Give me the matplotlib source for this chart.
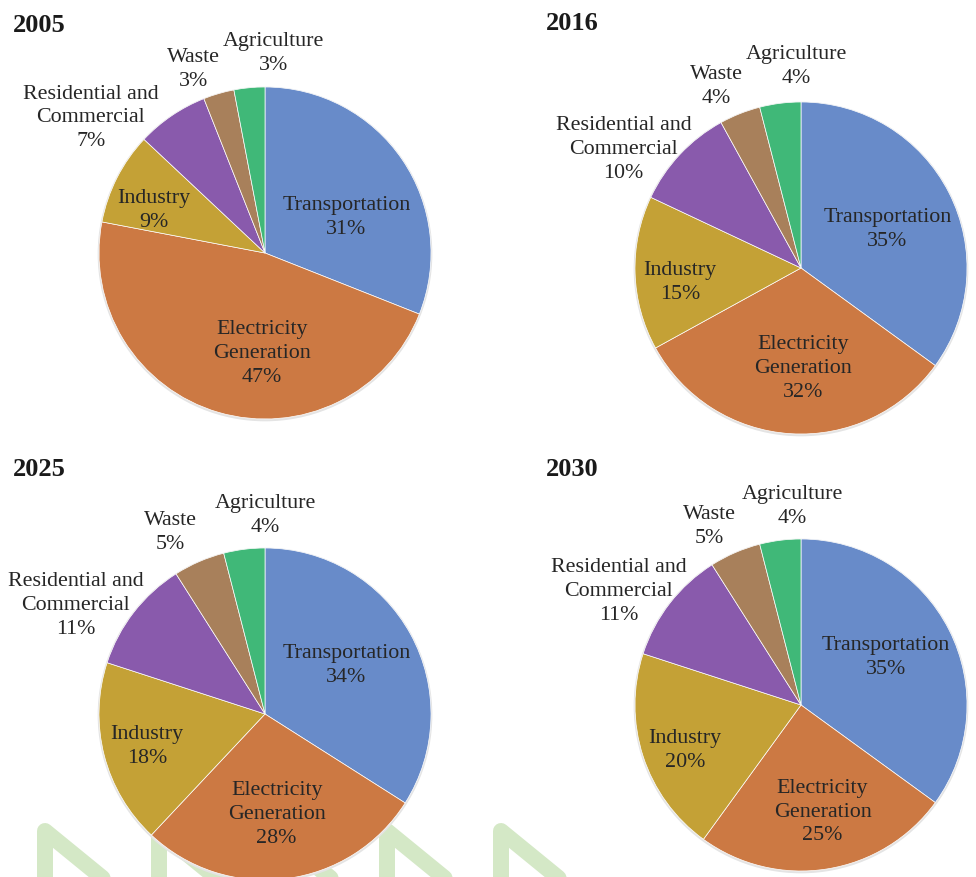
import matplotlib.pyplot as plt
from matplotlib.patches import Circle

''' data '''
years = ["2005", "2016", "2025", "2030"]
sectors = ["Transportation", "Electricity\nGeneration", "Industry",
           "Residential and\nCommercial", "Waste", "Agriculture"]
share_2005 = [31, 47, 9, 7, 3, 3]
share_2016 = [35, 32, 15, 10, 4, 4]
share_2025 = [34, 28, 18, 11, 5, 4]
share_2030 = [35, 25, 20, 11, 5, 4]
shares = [share_2005, share_2016, share_2025, share_2030]

colors = ["#688BC9", "#CC7943", "#C4A136", "#895AAC", "#A8805B", "#40B878"]

''' layout (pixels in a 976 x 878 canvas) '''
W, H = 976, 878
R = 166                       # pie radius in px
S = 210                       # half size of each pie axes in px
centers = [(265, 254), (801, 269), (265, 715), (801, 706)]
title_pos = [(13, 32), (546, 30), (13, 476), (546, 476)]
# label centres in pie-radius units, one row per year
label_xy = [
    [(0.49, 0.22), (-0.02, -0.60), (-0.67, 0.26), (-1.05, 0.82), (-0.43, 1.11), (0.05, 1.21)],
    [(0.52, 0.24), (0.01, -0.60), (-0.73, -0.08), (-1.07, 0.72), (-0.51, 1.10), (-0.03, 1.22)],
    [(0.49, 0.30), (0.07, -0.60), (-0.71, -0.19), (-1.14, 0.66), (-0.57, 1.10), (0.00, 1.20)],
    [(0.51, 0.29), (0.13, -0.64), (-0.70, -0.27), (-1.10, 0.69), (-0.55, 1.08), (-0.05, 1.20)],
]
serif = ["Liberation Serif", "DejaVu Serif"]

fig = plt.figure(figsize=(W / 100, H / 100), dpi=100)

# faint watermark in the background
bg = fig.add_axes([0, 0, 1, 1], zorder=0)
bg.set_xlim(0, W)
bg.set_ylim(H, 0)
bg.axis("off")
for cx in [45, 159, 273, 387, 501]:
    bg.plot([cx, cx, cx + 60, cx + 62], [900, 832, 881, 900], color="#D4E8C6",
            lw=11.5, solid_capstyle="round", solid_joinstyle="round")

for i, year in enumerate(years):
    cx, cy = centers[i]
    ax = fig.add_axes([(cx - S) / W, (H - cy - S) / H, 2 * S / W, 2 * S / H], zorder=2)
    lim = S / R
    # soft shadow round the pie
    ax.add_patch(Circle((0.0, -0.006), 1.008, color="#E4E4E4", zorder=0, lw=0))
    ax.pie(shares[i], colors=colors, startangle=90, counterclock=False, radius=1,
           wedgeprops=dict(edgecolor="white", linewidth=0.5))
    ax.set_xlim(-lim, lim)
    ax.set_ylim(-lim, lim)
    ax.set_aspect("equal")
    ax.axis("off")
    for j, name in enumerate(sectors):
        lx, ly = label_xy[i][j]
        ax.text(lx, ly, f"{name}\n{shares[i][j]}%", ha="center", va="center",
                fontsize=15.8, family=serif, color="#262626", linespacing=1.34)

    tx, ty = title_pos[i]
    fig.text(tx / W, 1 - ty / H, year, ha="left", va="baseline",
             fontsize=19, fontweight="bold", family=serif, color="#1A1A1A")

fig.savefig("out.png", dpi=100)
